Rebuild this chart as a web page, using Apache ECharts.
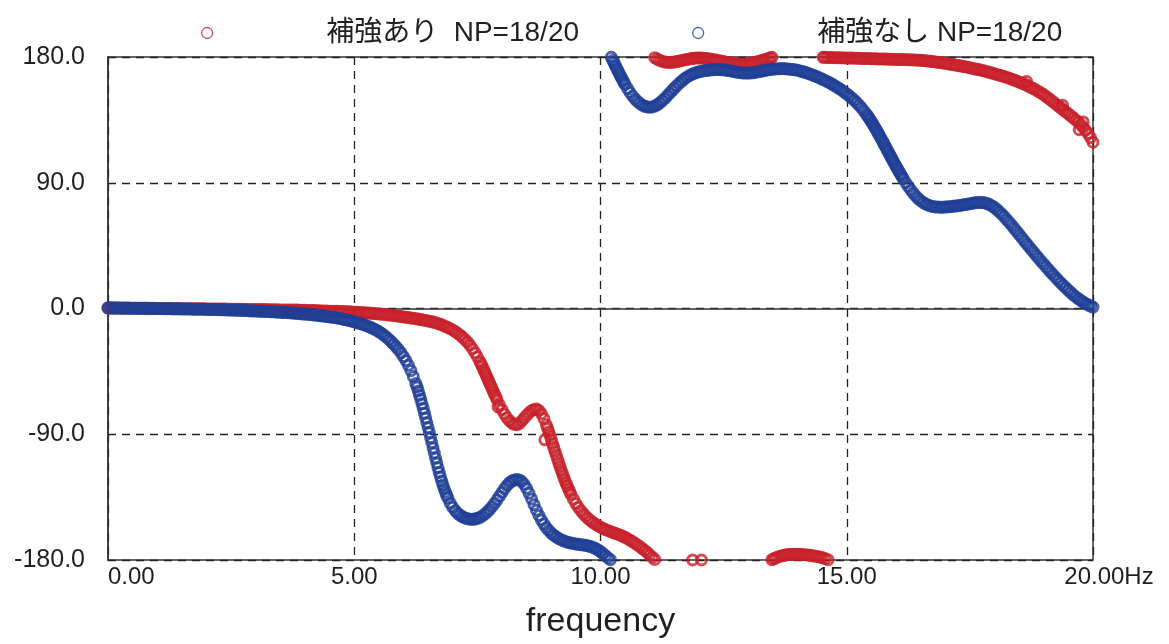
<!DOCTYPE html>
<html>
<head>
<meta charset="utf-8">
<script src="https://cdn.jsdelivr.net/npm/echarts@6/dist/echarts.min.js"></script>
<style>html,body{margin:0;padding:0;background:#fff}#c{width:1169px;height:644px}</style>
</head>
<body>
<div id="c"></div>
<script>
// ---- data: [frequency (Hz), phase (deg)] ----
const seriesNames = ['補強あり  NP=18/20', '補強なし NP=18/20'];
const xTicks = ['0.00', '5.00', '10.00', '15.00', '20.00'];
const yTicks = ['-180.0', '-90.0', '0.0', '90.0', '180.0'];

// 補強あり (red)
const redLow = [
 [0.0,0.3],[0.1,0.3],[0.2,0.3],[0.3,0.2],[0.4,0.2],[0.5,0.2],[0.6,0.2],[0.7,0.1],[0.8,0.1],[0.9,0.1],
 [1.0,0.0],[1.1,0.0],[1.2,0.0],[1.3,-0.1],[1.4,-0.1],[1.5,-0.1],[1.6,-0.1],[1.7,-0.2],[1.8,-0.2],[1.9,-0.2],
 [2.0,-0.3],[2.1,-0.3],[2.2,-0.3],[2.3,-0.4],[2.4,-0.4],[2.5,-0.5],[2.6,-0.5],[2.7,-0.6],[2.8,-0.6],[2.9,-0.7],
 [3.0,-0.7],[3.1,-0.8],[3.2,-0.8],[3.3,-0.9],[3.4,-0.9],[3.5,-1.0],[3.6,-1.0],[3.7,-1.1],[3.8,-1.1],[3.9,-1.2],
 [4.0,-1.3],[4.1,-1.4],[4.2,-1.5],[4.3,-1.6],[4.4,-1.8],[4.5,-1.9],[4.6,-2.0],[4.7,-2.1],[4.8,-2.2],[4.9,-2.4],
 [5.0,-2.6],[5.1,-2.8],[5.2,-3.0],[5.3,-3.3],[5.4,-3.6],[5.5,-3.9],[5.6,-4.2],[5.7,-4.6],[5.8,-5.0],[5.9,-5.5],
 [6.0,-6.0],[6.1,-6.5],[6.2,-7.0],[6.3,-7.6],[6.4,-8.2],[6.5,-8.9],[6.6,-9.7],[6.7,-10.7],[6.8,-12.0],[6.9,-13.6],
 [7.0,-15.4],[7.05,-16.5],[7.1,-17.7],[7.15,-19.1],[7.2,-20.6],[7.25,-22.3],[7.3,-24.1],[7.35,-26.3],[7.4,-28.8],[7.45,-31.6],
 [7.5,-34.6],[7.55,-38.0],[7.6,-41.6],[7.65,-45.5],[7.7,-49.5],[7.75,-53.5],[7.8,-57.5],[7.85,-61.5],[7.9,-65.3],[7.95,-69.0],
 [8.0,-72.4],[8.05,-75.5],[8.1,-78.2],[8.15,-80.3],[8.2,-81.9],[8.25,-82.9],[8.3,-83.2],[8.35,-82.4],[8.4,-80.6],[8.45,-78.5],
 [8.5,-76.4],[8.55,-74.6],[8.6,-73.1],[8.65,-72.2],[8.7,-72.0],[8.75,-73.0],[8.8,-75.3],[8.85,-78.8],[8.9,-83.2],[8.95,-88.3],
 [9.0,-93.8],[9.05,-99.4],[9.1,-104.9],[9.15,-110.3],[9.2,-115.5],[9.25,-120.4],[9.3,-125.0],[9.35,-129.2],[9.4,-133.0],[9.45,-136.5],
 [9.5,-139.6],[9.55,-142.3],[9.6,-144.7],[9.65,-146.8],[9.7,-148.7],[9.75,-150.4],[9.8,-151.9],[9.85,-153.2],[9.9,-154.4],[9.95,-155.5],
 [10.0,-156.5],[10.05,-157.4],[10.1,-158.2],[10.15,-158.9],[10.2,-159.6],[10.25,-160.3],[10.3,-160.9],[10.35,-161.5],[10.4,-162.2],[10.45,-163.0],
 [10.5,-163.8],[10.55,-164.8],[10.6,-165.8],[10.65,-166.9],[10.7,-168.0],[10.75,-169.2],[10.8,-170.5],[10.85,-171.8],[10.9,-173.2],
 [10.95,-174.7],[11.0,-176.3],[11.05,-178.0],[11.1,-179.6],
 [8.87,-94.0],[7.92,-70.5]
];
const redLowFine = [
 [0.05,0.3],[0.15,0.3],[0.25,0.25],[0.35,0.2],[0.45,0.2],[0.55,0.2],[0.65,0.15],[0.75,0.1],[0.85,0.1],[0.95,0.05],
 [1.05,0.0],[1.15,0.0],[1.25,-0.05],[1.35,-0.1],[1.45,-0.1],[1.55,-0.1],[1.65,-0.15],[1.75,-0.2],[1.85,-0.2],[1.95,-0.25],
 [2.05,-0.3],[2.15,-0.3],[2.25,-0.35],[2.35,-0.4],[2.45,-0.45],[2.55,-0.5],[2.65,-0.55],[2.75,-0.6],[2.85,-0.65],[2.95,-0.7],
 [3.05,-0.75],[3.15,-0.8],[3.25,-0.85],[3.35,-0.9],[3.45,-0.95],[3.55,-1.0],[3.65,-1.05],[3.75,-1.1],[3.85,-1.15],[3.95,-1.25],
 [4.05,-1.35],[4.15,-1.45],[4.25,-1.55],[4.35,-1.7],[4.45,-1.85],[4.55,-1.95],[4.65,-2.05],[4.75,-2.15],[4.85,-2.3],[4.95,-2.5],
 [5.05,-2.7],[5.15,-2.9],[5.25,-3.15],[5.35,-3.45],[5.45,-3.75],[5.55,-4.05],[5.65,-4.4],[5.75,-4.8],[5.85,-5.25],[5.95,-5.75],
 [6.05,-6.25],[6.15,-6.75],[6.25,-7.3],[6.35,-7.9],[6.45,-8.55],[6.55,-9.3],[6.65,-10.2],[6.75,-11.3],[6.85,-12.8],[6.95,-14.5],
 [7.575,-39.8],[7.625,-43.55],[7.675,-47.5],[7.725,-51.5],[7.775,-55.5],[7.825,-59.5],[7.875,-63.4],
 [8.925,-85.7],[8.975,-91.0],[9.025,-96.6],[9.075,-102.15],[9.125,-107.6],[9.175,-112.9],[9.225,-118.0],[9.275,-122.7],[9.325,-127.1],[9.375,-131.1]
];
const redTop1 = [
 [11.1,179.5],[11.15,178.5],[11.2,177.6],[11.25,177.0],[11.3,176.5],[11.35,176.2],[11.4,176.1],[11.45,176.2],[11.5,176.4],[11.55,176.7],
 [11.6,177.1],[11.65,177.5],[11.7,177.9],[11.75,178.3],[11.8,178.6],[11.85,178.9],[11.9,179.1],[11.95,179.2],[12.0,179.3],[12.05,179.2],
 [12.1,179.1],[12.15,178.9],[12.2,178.7],[12.25,178.4],[12.3,178.1],[12.35,177.8],[12.4,177.4],[12.45,177.1],[12.5,176.7],[12.55,176.3],
 [12.6,176.0],[12.65,175.7],[12.7,175.4],[12.75,175.2],[12.8,175.0],[12.85,174.9],[12.9,174.9],[12.95,175.0],[13.0,175.2],[13.05,175.5],
 [13.1,175.9],[13.15,176.3],[13.2,176.8],[13.25,177.3],[13.3,177.8],[13.35,178.3],[13.4,178.9],[13.45,179.4],[13.48,179.8]
];
const redBottom = [
 [11.87,-180.0],[12.05,-180.0],
 [13.48,-179.8],[13.52,-179.1],[13.55,-178.6],[13.6,-177.8],[13.65,-177.3],[13.7,-176.8],[13.75,-176.4],[13.8,-176.1],[13.85,-175.9],[13.9,-175.8],
 [13.95,-175.8],[14.0,-175.8],[14.05,-175.9],[14.1,-176.0],[14.15,-176.2],[14.2,-176.4],[14.25,-176.6],[14.3,-176.9],[14.35,-177.2],[14.4,-177.5],
 [14.45,-177.9],[14.5,-178.3],[14.56,-179.0],[14.62,-179.8]
];
const redTop2 = [
 [14.52,179.8],[14.6,179.7],[14.7,179.6],[14.8,179.5],[14.9,179.4],[15.0,179.3],[15.1,179.2],[15.2,179.1],[15.3,179.0],[15.4,178.9],
 [15.5,178.8],[15.6,178.7],[15.7,178.6],[15.8,178.5],[15.9,178.4],[16.0,178.3],[16.1,178.2],[16.2,178.1],[16.3,178.0],[16.4,177.8],
 [16.5,177.6],[16.6,177.3],[16.7,176.9],[16.8,176.5],[16.9,176.0],[17.0,175.5],[17.1,174.9],[17.2,174.3],[17.3,173.7],[17.4,173.0],
 [17.5,172.3],[17.6,171.5],[17.7,170.8],[17.8,170.0],[17.9,169.0],[18.0,168.0],[18.1,167.0],[18.2,166.0],[18.3,164.8],[18.4,163.5],
 [18.5,162.1],[18.6,160.6],[18.7,159.0],[18.8,157.2],[18.9,155.2],[19.0,153.0],[19.1,150.4],[19.2,147.6],[19.3,144.8],[19.4,142.0],
 [19.5,139.3],[19.6,136.5],[19.7,133.5],[19.75,131.6],[19.8,129.6],[19.85,127.5],[19.9,125.2],[19.95,122.2],[20.0,119.0],
 [18.65,162.5],[19.38,145.5],[19.72,128.0],[19.8,133.5]
];
const redTop2Fine = [
 [14.55,179.75],[14.65,179.65],[14.75,179.55],[14.85,179.45],[14.95,179.35],[15.05,179.25],[15.15,179.15],[15.25,179.05],[15.35,178.95],[15.45,178.85],
 [15.55,178.75],[15.65,178.65],[15.75,178.55],[15.85,178.45],[15.95,178.35],[16.05,178.25],[16.15,178.15],[16.25,178.05],[16.35,177.9],[16.45,177.7],
 [16.55,177.45],[16.65,177.1],[16.75,176.7],[16.85,176.25],[16.95,175.75],[17.05,175.2],[17.15,174.6],[17.25,174.0],[17.35,173.35],[17.45,172.65],
 [17.55,171.9],[17.65,171.15],[17.75,170.4],[17.85,169.5],[17.95,168.5],[18.05,167.5],[18.15,166.5],[18.25,165.4],[18.35,164.15],[18.45,162.8],
 [18.55,161.35],[18.65,159.8],[18.75,158.1],[18.85,156.2],[18.95,154.1],[19.05,151.7],[19.15,149.0],[19.25,146.2],[19.35,143.4],[19.45,140.65],
 [19.55,137.9],[19.65,135.0]
];

// 補強なし (blue)
const blueLow = [
 [0.0,0.5],[0.1,0.4],[0.2,0.4],[0.3,0.3],[0.4,0.3],[0.5,0.2],[0.6,0.2],[0.7,0.1],[0.8,0.1],[0.9,0.0],
 [1.0,0.0],[1.1,-0.1],[1.2,-0.1],[1.3,-0.2],[1.4,-0.2],[1.5,-0.3],[1.6,-0.3],[1.7,-0.4],[1.8,-0.5],[1.9,-0.5],
 [2.0,-0.6],[2.1,-0.7],[2.2,-0.8],[2.3,-0.9],[2.4,-1.0],[2.5,-1.1],[2.6,-1.2],[2.7,-1.4],[2.8,-1.5],[2.9,-1.7],
 [3.0,-1.8],[3.1,-2.0],[3.2,-2.1],[3.3,-2.3],[3.4,-2.5],[3.5,-2.7],[3.6,-2.9],[3.7,-3.1],[3.8,-3.4],[3.9,-3.7],
 [4.0,-4.0],[4.1,-4.3],[4.2,-4.7],[4.3,-5.1],[4.4,-5.5],[4.5,-6.0],[4.6,-6.5],[4.7,-7.1],[4.8,-7.8],[4.9,-8.6],
 [5.0,-9.5],[5.05,-10.0],[5.1,-10.6],[5.15,-11.1],[5.2,-11.7],[5.25,-12.3],[5.3,-13.0],[5.35,-13.8],[5.4,-14.6],[5.45,-15.5],
 [5.5,-16.5],[5.55,-17.7],[5.6,-19.0],[5.65,-20.4],[5.7,-22.0],[5.75,-23.7],[5.8,-25.5],[5.85,-27.4],[5.9,-29.5],[5.95,-31.8],
 [6.0,-34.4],[6.05,-37.3],[6.1,-40.6],[6.15,-44.4],[6.2,-48.7],[6.25,-53.6],[6.3,-59.0],[6.35,-65.0],[6.4,-71.5],[6.45,-78.3],
 [6.5,-85.3],[6.525,-88.9],[6.55,-92.5],[6.575,-96.1],[6.6,-99.8],[6.625,-103.4],[6.65,-107.0],[6.675,-110.5],[6.7,-114.0],[6.725,-117.3],
 [6.75,-120.5],[6.775,-123.5],[6.8,-126.3],[6.85,-131.4],[6.9,-135.7],[6.95,-139.3],[7.0,-142.3],[7.05,-144.7],[7.1,-146.6],[7.15,-148.0],
 [7.2,-149.1],[7.25,-149.9],[7.3,-150.5],[7.35,-150.8],[7.4,-150.9],[7.45,-150.7],[7.5,-150.2],[7.55,-149.5],[7.6,-148.5],[7.65,-147.2],
 [7.7,-145.6],[7.75,-143.8],[7.8,-141.7],[7.85,-139.4],[7.9,-136.9],[7.95,-134.3],[8.0,-131.6],[8.05,-129.0],[8.1,-126.7],[8.15,-124.8],
 [8.2,-123.5],[8.25,-122.7],[8.3,-122.4],[8.35,-122.7],[8.4,-123.8],[8.45,-125.8],[8.5,-128.7],[8.55,-132.3],[8.6,-136.3],[8.65,-140.4],
 [8.7,-144.4],[8.75,-148.1],[8.8,-151.4],[8.85,-154.3],[8.9,-156.8],[8.95,-158.9],[9.0,-160.7],[9.05,-162.2],[9.1,-163.5],[9.15,-164.6],
 [9.2,-165.5],[9.25,-166.3],[9.3,-166.9],[9.35,-167.4],[9.4,-167.9],[9.45,-168.2],[9.5,-168.5],[9.55,-168.8],[9.6,-169.0],[9.65,-169.2],
 [9.7,-169.5],[9.75,-169.9],[9.8,-170.4],[9.85,-171.0],[9.9,-171.8],[9.95,-172.8],[10.0,-174.0],
 [10.05,-175.4],[10.1,-176.9],[10.15,-178.4],[10.2,-179.8]
];
const blueLowFine = [
 [0.05,0.45],[0.15,0.4],[0.25,0.35],[0.35,0.3],[0.45,0.25],[0.55,0.2],[0.65,0.15],[0.75,0.1],[0.85,0.05],[0.95,0.0],
 [1.05,-0.05],[1.15,-0.1],[1.25,-0.15],[1.35,-0.2],[1.45,-0.25],[1.55,-0.3],[1.65,-0.35],[1.75,-0.45],[1.85,-0.5],[1.95,-0.55],
 [2.05,-0.65],[2.15,-0.75],[2.25,-0.85],[2.35,-0.95],[2.45,-1.05],[2.55,-1.15],[2.65,-1.3],[2.75,-1.45],[2.85,-1.6],[2.95,-1.75],
 [3.05,-1.9],[3.15,-2.05],[3.25,-2.2],[3.35,-2.4],[3.45,-2.6],[3.55,-2.8],[3.65,-3.0],[3.75,-3.25],[3.85,-3.55],[3.95,-3.85],
 [4.05,-4.15],[4.15,-4.5],[4.25,-4.9],[4.35,-5.3],[4.45,-5.75],[4.55,-6.25],[4.65,-6.8],[4.75,-7.45],[4.85,-8.2],[4.95,-9.05],
 [6.275,-56.2],[6.325,-62.0],[6.375,-68.2],[6.425,-74.9],[6.475,-81.8],[6.825,-128.9],[6.875,-133.6]
];
const blueTop = [
 [10.22,179.8],[10.25,177.5],[10.3,174.0],[10.35,170.4],[10.4,166.9],[10.45,163.5],[10.5,160.3],[10.55,157.3],[10.6,154.6],[10.65,152.1],
 [10.7,150.0],[10.75,148.2],[10.8,146.7],[10.85,145.5],[10.9,144.7],[10.95,144.2],[11.0,144.1],[11.05,144.3],[11.1,144.9],[11.15,145.8],
 [11.2,147.0],[11.25,148.5],[11.3,150.2],[11.35,152.0],[11.4,153.9],[11.45,155.8],[11.5,157.7],[11.55,159.5],[11.6,161.2],[11.65,162.8],
 [11.7,164.2],[11.75,165.5],[11.8,166.6],[11.85,167.5],[11.9,168.3],[11.95,168.9],[12.0,169.4],[12.1,170.1],[12.2,170.6],[12.3,170.9],
 [12.4,171.0],[12.5,170.8],[12.6,170.3],[12.7,169.7],[12.8,169.0],
 [12.9,168.6],[13.0,168.5],[13.1,168.8],[13.2,169.4],[13.3,170.1],[13.4,170.8],[13.5,171.3],[13.6,171.6],[13.7,171.7],[13.8,171.5],
 [13.9,171.1],[14.0,170.5],[14.1,169.6],[14.2,168.5],[14.3,167.2],[14.4,165.8],[14.5,164.2],[14.6,162.5],[14.7,160.6],[14.8,158.5],
 [14.9,156.2],[14.95,154.9],[15.0,153.6],[15.05,152.2],[15.1,150.7],[15.15,149.1],[15.2,147.4],[15.25,145.5],[15.3,143.5],[15.35,141.3],[15.4,139.0],[15.45,136.4],[15.5,133.7],[15.55,130.8],[15.6,127.8],
 [15.65,124.7],[15.7,121.5],[15.75,118.2],[15.8,114.9],[15.85,111.6],[15.9,108.3],[15.95,105.0],[16.0,101.8],[16.05,98.7],[16.1,95.7],
 [16.15,92.8],[16.2,90.0],[16.25,87.4],[16.3,84.9],[16.35,82.6],[16.4,80.5],[16.45,78.7],[16.5,77.1],[16.6,74.8],[16.7,73.4],[16.8,72.7],[16.9,72.5],[17.0,72.6],
 [17.1,72.9],[17.2,73.3],[17.3,73.8],[17.4,74.4],[17.5,75.0],[17.6,75.6],[17.7,75.9],[17.8,75.6],[17.9,74.4],[17.95,73.4],[18.0,72.2],
 [18.05,70.8],[18.1,69.2],[18.15,67.5],[18.2,65.6],[18.25,63.6],[18.3,61.6],[18.35,59.5],[18.4,57.4],[18.45,55.2],[18.5,53.0],[18.55,50.8],[18.6,48.6],[18.65,46.4],[18.7,44.3],[18.75,42.1],[18.8,40.0],[18.85,37.9],[18.9,35.8],[18.95,33.7],[19.0,31.7],
 [19.05,29.7],[19.1,27.7],[19.15,25.7],[19.2,23.8],[19.25,21.9],[19.3,20.0],[19.35,18.2],[19.4,16.4],[19.45,14.7],[19.5,13.0],[19.55,11.4],[19.6,9.8],[19.65,8.4],[19.7,7.0],[19.75,5.8],[19.8,4.6],[19.85,3.5],[19.9,2.6],[19.95,1.7],[20.0,1.0]
];
const blueTopFine = [
 [10.275,175.8],[10.325,172.2],[10.375,168.6],[10.425,165.2],[10.475,161.9],
 [12.05,169.8],[12.15,170.4],[12.25,170.8],[12.35,171.0],[12.45,170.9],[12.55,170.6],[12.65,170.0],[12.75,169.35],[12.85,168.8],[12.95,168.5],
 [13.05,168.6],[13.15,169.1],[13.25,169.75],[13.35,170.45],[13.45,171.05],[13.55,171.45],[13.65,171.65],[13.75,171.6],[13.85,171.3],[13.95,170.8],
 [14.05,170.05],[14.15,169.05],[14.25,167.85],[14.35,166.5],[14.45,165.0],[14.55,163.35],[14.65,161.55],[14.75,159.55],[14.85,157.35],
 [15.425,137.7],[15.475,135.05],[15.525,132.25],[15.575,129.3],[15.625,126.25],[15.675,123.1],[15.725,119.85],[15.775,116.55],[15.825,113.25],
 [15.875,109.95],[15.925,106.65],[15.975,103.4],[16.025,100.25],[16.075,97.2],[16.125,94.25],
 [16.55,75.9],[16.65,74.1],[16.75,73.0],[16.85,72.6],[16.95,72.5],[17.05,72.75],[17.15,73.1],[17.25,73.55],[17.35,74.1],[17.45,74.7],
 [17.55,75.3],[17.65,75.8],[17.75,75.8],[17.85,75.1]
];

const RED = '#c8202a';
const BLUE = '#1f3f96';
const FONT = "'Liberation Sans', 'Noto Sans CJK JP', sans-serif";

const chart = echarts.init(document.getElementById('c'), null, {renderer: 'canvas'});

function mkSeries(name, color, data) {
  return {
    name: name,
    type: 'scatter',
    symbol: 'circle',
    symbolSize: 10,
    clip: false,
    animation: false,
    itemStyle: {color: 'rgba(0,0,0,0)', borderColor: color, borderWidth: 3},
    emphasis: {disabled: true},
    data: data
  };
}

chart.setOption({
  animation: false,
  backgroundColor: '#fff',
  textStyle: {fontFamily: FONT},
  grid: {left: 108, right: 76, top: 57, bottom: 82, show: true, borderColor: '#333', borderWidth: 1.5, backgroundColor: 'transparent'},
  legend: [
    {data: [seriesNames[0]], left: 196, top: 14, itemWidth: 228, itemHeight: 11, itemGap: 0,
     itemStyle: {borderWidth: 1.3},
     textStyle: {fontSize: 28, color: '#231f20', fontFamily: FONT}, selectedMode: false},
    {data: [seriesNames[1]], left: 687, top: 14, itemWidth: 228, itemHeight: 11, itemGap: 0,
     itemStyle: {borderWidth: 1.3},
     textStyle: {fontSize: 28, color: '#231f20', fontFamily: FONT}, selectedMode: false}
  ],
  xAxis: {
    type: 'value', min: 0, max: 20, interval: 5,
    name: 'frequency', nameLocation: 'middle', nameGap: 45,
    nameTextStyle: {fontSize: 34, color: '#231f20', fontFamily: FONT},
    axisLine: {show: true, lineStyle: {color: '#333', width: 1.5}},
    axisTick: {show: false},
    splitLine: {show: true, lineStyle: {color: '#222', type: [8, 6], width: 1.3}},
    axisLabel: {
      fontSize: 24, color: '#231f20', margin: 5, fontFamily: FONT,
      alignMinLabel: 'left',
      formatter: function (v) {
        const i = Math.round(v / 5);
        if (i === xTicks.length - 1) return '{p|}{n|' + xTicks[i] + '}{h|Hz}';
        return '{n|' + xTicks[i] + '}';
      },
      rich: {
        p: {width: 32, fontSize: 24},
        n: {fontSize: 24, color: '#231f20', fontFamily: FONT},
        h: {fontSize: 24, color: '#231f20', fontFamily: FONT}
      }
    }
  },
  yAxis: {
    type: 'value', min: -180, max: 180, interval: 90,
    axisLine: {show: true, lineStyle: {color: '#333', width: 1.5}},
    axisTick: {show: false},
    splitLine: {show: true, lineStyle: {color: '#222', type: [8, 6], width: 1.3}},
    axisLabel: {
      fontSize: 25, color: '#231f20', margin: 23, fontFamily: FONT,
      formatter: function (v) { return yTicks[Math.round((v + 180) / 90)]; }
    }
  },
  series: [
    mkSeries(seriesNames[0], RED, redLow.concat(redLowFine, redTop1, redBottom, redTop2, redTop2Fine)),
    mkSeries(seriesNames[1], BLUE, blueLow.concat(blueLowFine, blueTop, blueTopFine))
  ]
});
</script>
</body>
</html>
